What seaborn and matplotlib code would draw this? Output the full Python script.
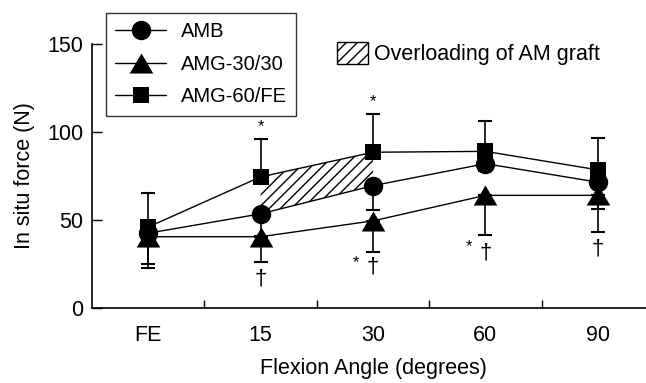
import numpy as np
import pandas as pd
import matplotlib
matplotlib.use("Agg")
import matplotlib.pyplot as plt
from matplotlib.lines import Line2D
from matplotlib.patches import Patch
import seaborn as sns

# values (N)
angles = ['FE', '15', '30', '60', '90']
amb = [42.5, 53.5, 69.5, 82.0, 71.5]
amg30 = [40.5, 40.5, 49.5, 64.0, 64.0]
amg60 = [46.0, 74.5, 88.5, 89.0, 78.5]

# one-sided SD bars
amg60_sd_up = [19.5, 21.5, 21.5, 17.0, 18.0]
amb_sd_down = [17.5, 12.5, 14.0, 4.0, 15.5]
amg30_sd_down = [17.8, 14.5, 17.5, 22.5, 21.0]

# significance marks: (angle index, y)
stars_above = [(1, 103), (2, 117)]
stars_below = [(2, 26), (3, 35)]
daggers = [(1, 16.5), (2, 23.5), (3, 31), (4, 33.5)]

sns.set_style('ticks')
plt.rcParams['font.family'] = ['Liberation Sans', 'DejaVu Sans']
plt.rcParams['hatch.linewidth'] = 1.0
for k in ['text.color', 'axes.labelcolor', 'xtick.color', 'ytick.color',
          'axes.edgecolor']:
    plt.rcParams[k] = 'black'

pos = np.arange(len(angles))
df = pd.DataFrame({
    'pos': np.tile(pos, 3),
    'force': amb + amg30 + amg60,
    'group': ['AMB'] * 5 + ['AMG-30/30'] * 5 + ['AMG-60/FE'] * 5,
})
wide_tri = [(-1, -0.85), (1, -0.85), (0, 0.85), (-1, -0.85)]
markers = {'AMB': 'o', 'AMG-30/30': wide_tri, 'AMG-60/FE': 's'}
msizes = {'AMB': 14, 'AMG-30/30': 17, 'AMG-60/FE': 12}

fig = plt.figure(figsize=(6.46, 3.83), dpi=100)
ax = fig.add_axes([92 / 646, 75 / 383, 562 / 646, 264 / 383])

# hatched overload region between AMG-60/FE and AMB (15 -> 30)
ax.fill_between(pos[1:3], amg60[1:3], amb[1:3], facecolor='none',
                edgecolor='black', hatch='///', linewidth=0, zorder=1)

# one sided error bars
eb = dict(fmt='none', ecolor='black', elinewidth=1.2, capsize=5,
          capthick=1.5, zorder=2)
ax.errorbar(pos, amg60, yerr=[np.zeros(5), amg60_sd_up], **eb)
ax.errorbar(pos, amb, yerr=[amb_sd_down, np.zeros(5)], **eb)
ax.errorbar(pos, amg30, yerr=[amg30_sd_down, np.zeros(5)], **eb)

for g in markers:
    sns.lineplot(data=df[df['group'] == g], x='pos', y='force',
                 marker=markers[g], markersize=msizes[g], markeredgewidth=0,
                 color='black', linewidth=1.0, legend=False, ax=ax, zorder=3)

for i, y in stars_above:
    ax.text(pos[i], y, '*', ha='center', va='center', fontsize=12)
for i, y in stars_below:
    ax.text(pos[i] - 0.15, y, '*', ha='center', va='center', fontsize=12)
for i, y in daggers:
    ax.text(pos[i], y, '†', ha='center', va='center', fontsize=16)

ax.set_xlim(-0.5, 4.5)
ax.set_ylim(0, 150)
ax.set_yticks([0, 50, 100, 150])
ax.set_xticks(pos)
ax.set_xticklabels(angles)
ax.set_xticks(pos[:-1] + 0.5, minor=True)
ax.tick_params(axis='x', which='major', length=0, pad=12, labelsize=15.5)
ax.tick_params(axis='x', which='minor', direction='in', length=6, width=1)
ax.tick_params(axis='y', direction='in', length=7, width=1, labelsize=15.5,
               pad=6)
for s in ['top', 'right']:
    ax.spines[s].set_visible(False)
for s in ['left', 'bottom']:
    ax.spines[s].set_linewidth(1.2)
    ax.spines[s].set_color('black')
ax.set_xlabel('Flexion Angle (degrees)', fontsize=15.5, labelpad=9)
ax.set_ylabel('In situ force (N)', fontsize=15.5, labelpad=9)

handles = [Line2D([], [], color='black', marker=markers[g],
                  markersize=msizes[g], linewidth=1.0, markeredgewidth=0)
           for g in markers]
leg = fig.legend(handles, list(markers), loc='upper left',
                 bbox_to_anchor=(106 / 646, 1 - 13 / 383), frameon=True,
                 fancybox=False, edgecolor='black', fontsize=14.5,
                 handlelength=2.55, labelspacing=0.68, borderpad=0.45,
                 handletextpad=0.7, borderaxespad=0)
leg.get_frame().set_linewidth(1.0)

leg2 = fig.legend([Patch(facecolor='white', edgecolor='black', hatch='///')],
                  ['Overloading of AM graft'], loc='upper left',
                  bbox_to_anchor=(337 / 646, 1 - 42 / 383), frameon=False,
                  fontsize=15.5, handlelength=1.45, handleheight=1.16,
                  handletextpad=0.25, borderaxespad=0, borderpad=0)

fig.savefig('out.png', dpi=100)
